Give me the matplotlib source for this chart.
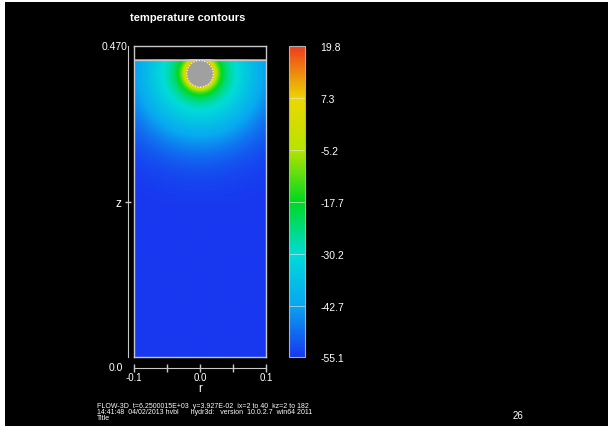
import numpy as np
import matplotlib
matplotlib.use('Agg')
import matplotlib.pyplot as plt
from matplotlib.colors import LinearSegmentedColormap, Normalize
from matplotlib.patches import Circle, Rectangle

plt.rcParams['font.family'] = ['Liberation Sans', 'DejaVu Sans']

# temperature range and colour bar levels
t_min, t_max = -55.1, 19.8
levels = [-55.1, -42.7, -30.2, -17.7, -5.2, 7.3, 19.8]

# domain (m)
r_lim = [-0.1, 0.1]
z_top = 0.470
surface_z = 0.449
sphere_r, sphere_z, sphere_rad = 0.0, 0.428, 0.020

# r axis ticks
r_ticks = [-0.1, -0.05, 0.0, 0.05, 0.1]
r_labels = ['-0.1', '', '0.0', '', '0.1']

# warm zone around the sphere: thin boundary layer + wide gaussian halo
near_amp, near_len = 0.50, 0.010
far_amp, far_len = 0.38, 0.085

footer = ['FLOW-3D  t=6.2500015E+03  y=3.927E-02  ix=2 to 40  kz=2 to 182',
          '14:41:48  04/02/2013 hvbl      hydr3d:   version  10.0.2.7  win64 2011',
          'Title']
page_no = '26'

cmap = LinearSegmentedColormap.from_list('flow3d', [
    (0.00, '#1838f0'),
    (0.17, '#08a8f0'),
    (0.33, '#00dcd8'),
    (0.50, '#00d820'),
    (0.67, '#b8e400'),
    (0.83, '#ecd800'),
    (1.00, '#ee3c1c'),
])

W, H = 608, 427
fig = plt.figure(figsize=(W / 100, H / 100), dpi=100, facecolor='black')


def box(x0, y0, x1, y1):
    # pixel box (top-left origin) -> figure fraction rect
    return [x0 / W, 1 - y1 / H, (x1 - x0) / W, (y1 - y0) / H]


# thin white frame on left and top page edges
fig.add_artist(Rectangle((0, 0), 5 / W, 1, transform=fig.transFigure,
                         color='white', lw=0))
fig.add_artist(Rectangle((0, 1 - 3 / H), 1, 3 / H, transform=fig.transFigure,
                         color='white', lw=0))

# field plot
ax = fig.add_axes(box(134, 47, 266, 358))
ax.set_facecolor('black')
rr = np.linspace(r_lim[0], r_lim[1], 400)
zz = np.linspace(0, surface_z, 900)
R, Z = np.meshgrid(rr, zz)
d = np.clip(np.hypot(R - sphere_r, Z - sphere_z) - sphere_rad, 0, None)
T = t_min + (t_max - t_min) * (near_amp * np.exp(-d / near_len)
                               + far_amp * np.exp(-(d / far_len) ** 2))
ax.imshow(T, origin='lower', extent=[r_lim[0], r_lim[1], 0, surface_z],
          cmap=cmap, norm=Normalize(t_min, t_max), aspect='auto',
          interpolation='bilinear')
ax.add_patch(Circle((sphere_r, sphere_z), sphere_rad, facecolor='#a0a0a0',
                    edgecolor='white', lw=0.8, ls=(0, (1, 1.5)), zorder=3))
ax.axhline(surface_z, color='#c8c8c8', lw=1)
ax.set_xlim(r_lim)
ax.set_ylim(0, z_top)
ax.set_xticks([])
ax.set_yticks([])
for s in ax.spines.values():
    s.set_color('#c8c8c8')
    s.set_linewidth(1)

# r axis
axr = fig.add_axes(box(134, 368, 266, 368.5))
axr.set_facecolor('none')
axr.set_xlim(r_lim)
axr.set_yticks([])
axr.set_xticks(r_ticks)
axr.set_xticklabels(r_labels)
axr.tick_params(axis='x', colors='#c8c8c8', direction='inout', length=6,
                width=1, labelsize=7, labelcolor='white', pad=0)
for k in ['top', 'left', 'right']:
    axr.spines[k].set_visible(False)
axr.spines['bottom'].set_color('#c8c8c8')
fig.text(200 / W, 1 - 389 / H, 'r', color='white', fontsize=8.5,
         ha='center', va='center')

# z axis
axz = fig.add_axes(box(128, 47, 128.5, 358))
axz.set_facecolor('none')
axz.set_ylim(0, z_top)
axz.set_xticks([])
axz.set_yticks([z_top / 2])
axz.set_yticklabels([''])
axz.tick_params(axis='y', colors='#c8c8c8', direction='inout', length=5, width=1)
for k in ['top', 'bottom', 'right']:
    axz.spines[k].set_visible(False)
axz.spines['left'].set_color('#c8c8c8')
fig.text(118 / W, 1 - 204 / H, 'z', color='white', fontsize=8.5,
         ha='center', va='center')
fig.text(127 / W, 1 - 47 / H, '0.470', color='white', fontsize=7.5,
         ha='right', va='center')
fig.text(123 / W, 1 - 368 / H, '0.0', color='white', fontsize=7.5,
         ha='right', va='center')

# colour bar
axc = fig.add_axes(box(289, 47, 305, 358))
cb = fig.colorbar(plt.cm.ScalarMappable(norm=Normalize(t_min, t_max), cmap=cmap),
                  cax=axc, ticks=levels)
cb.ax.set_yticklabels(['%.1f' % v for v in levels])
cb.ax.tick_params(length=0, labelsize=7.5, labelcolor='white', pad=11)
cb.outline.set_edgecolor('#b0b0b0')
cb.outline.set_linewidth(0.8)
for v in levels[1:-1]:
    axc.axhline(v, color='#e8e8e8', lw=0.6, alpha=0.7)

# title and footer
fig.text(130 / W, 1 - 18 / H, 'temperature contours', color='white',
         fontsize=8, weight='bold', va='center', ha='left')
for i, line in enumerate(footer):
    fig.text(97 / W, 1 - (407 + 6 * i) / H, line, color='white',
             fontsize=5, va='center', ha='left')
fig.text(518 / W, 1 - 416 / H, page_no, color='white', fontsize=7,
         va='center', ha='center')

fig.savefig('out.png', dpi=100, facecolor='black')
